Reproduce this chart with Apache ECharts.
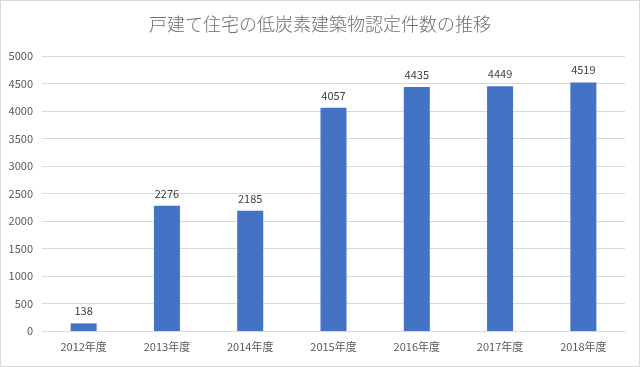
<!DOCTYPE html>
<html><head><meta charset="utf-8">
<script src="https://cdn.jsdelivr.net/npm/echarts@6/dist/echarts.min.js"></script>
<style>html,body{margin:0;padding:0;background:#fff}#c{width:638px;height:365px;border:1px solid #d9d9d9}</style>
</head><body><div id="c"></div>
<script>
const titleText = '戸建て住宅の低炭素建築物認定件数の推移';
const categories = ['2012年度','2013年度','2014年度','2015年度','2016年度','2017年度','2018年度'];
const values = [138, 2276, 2185, 4057, 4435, 4449, 4519];
const yTicks = {min: 0, max: 5000, interval: 500};
const font = '"Noto Sans CJK JP", "Open Sans", sans-serif';
const chart = echarts.init(document.getElementById('c'));
chart.setOption({
  animation: false,
  title: {text: titleText, left: 'center', top: 9,
    textStyle: {fontFamily: font, fontSize: 18, fontWeight: 300, color: '#6f6f6f'}},
  grid: {left: 41, right: 14, top: 55, bottom: 35},
  xAxis: {type: 'category', data: categories,
    axisLine: {lineStyle: {color: '#d9d9d9'}}, axisTick: {show: false},
    axisLabel: {color: '#595959', fontSize: 11, fontFamily: font, margin: 10}},
  yAxis: {type: 'value', min: yTicks.min, max: yTicks.max, interval: yTicks.interval,
    axisLine: {show: false}, axisTick: {show: false},
    splitLine: {lineStyle: {color: '#d9d9d9'}},
    axisLabel: {color: '#595959', fontSize: 11, fontFamily: font, margin: 9,
      formatter: v => String(v)}},
  series: [{type: 'bar', data: values, barWidth: 26,
    itemStyle: {color: '#4472c4'},
    label: {show: true, position: 'top', color: '#404040', fontSize: 11, fontFamily: font, distance: 7}}]
});
</script></body></html>
